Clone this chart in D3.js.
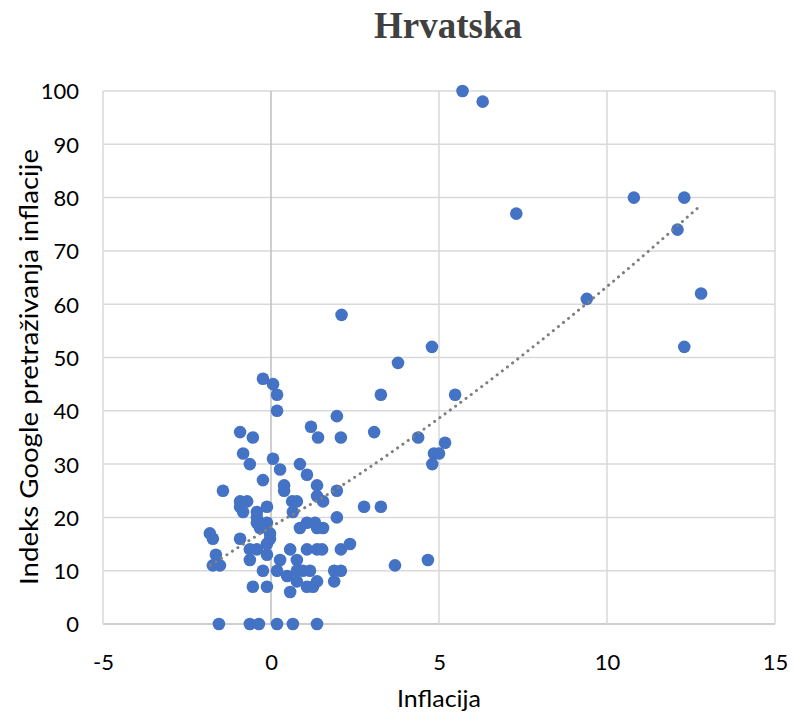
<!DOCTYPE html>
<html>
<head>
<meta charset="utf-8">
<script src="https://cdn.jsdelivr.net/npm/d3@7"></script>
<style>
  body { margin: 0; background: #fff; }
  text { font-family: Lato, "Liberation Sans", sans-serif; fill: #000; }
</style>
</head>
<body>
<div id="chart"></div>
<script>
// Data
var inflacija = [
  -1.55, -0.63, -0.36, 0.18, 0.65, 1.37,
  0.57,
  -0.54, -0.12, 1.07, 1.25,
  0.77, 1.37, 1.88,
  0.48,
  -0.24, 0.18, 0.77, 0.95, 1.16, 1.88, 2.08,
  -1.73, -1.52, 3.69,
  -0.63, 0.27, 0.77, 4.67,
  -1.64, -0.12,
  -0.63, -0.42, 0.57, 1.07, 1.37, 1.52, 2.08,
  -0.12, 2.35,
  -1.73, -0.92, -0.03,
  -1.82, -0.03,
  -0.33, 0.86, 1.37, 1.55,
  -0.42, -0.12, 1.07, 1.31,
  -0.42, 1.96,
  -0.83, -0.42, 0.65,
  -0.92, -0.12, 2.77, 3.27,
  -0.92, -0.71, 0.63, 0.77, 1.55,
  1.37,
  -1.43, 0.39, 1.96,
  0.39, 1.37,
  -0.24, 1.07, 0.27,
  -0.63, 0.86, 4.8,
  0.06,
  -0.83, 4.85, 5.0,
  5.18,
  -0.54, 1.4, 2.08, 4.38,
  -0.92, 3.07,
  1.19, 1.96, 0.18,
  0.18, 3.27, 5.48,
  0.06, -0.24, 3.78,
  4.79, 12.3, 2.1, 9.4, 12.8, 12.1, 7.3, 10.8, 12.3, 6.3, 5.7
];
var indeks = [
  0, 0, 0, 0, 0, 0,
  6,
  7, 7, 7, 7,
  8, 8, 8,
  9,
  10, 10, 10, 10, 10, 10, 10,
  11, 11, 11,
  12, 12, 12, 12,
  13, 13,
  14, 14, 14, 14, 14, 14, 14,
  15, 15,
  16, 16, 16,
  17, 17,
  18, 18, 18, 18,
  19, 19, 19, 19,
  20, 20,
  21, 21, 21,
  22, 22, 22, 22,
  23, 23, 23, 23, 23,
  24,
  25, 25, 25,
  26, 26,
  27, 28, 29,
  30, 30, 30,
  31,
  32, 32, 32,
  34,
  35, 35, 35, 35,
  36, 36,
  37, 39, 40,
  43, 43, 43,
  45, 46, 49,
  52, 52, 58, 61, 62, 74, 77, 80, 80, 98, 100
];

// Dotted trend line
var trendX = [-1.8, 0, 1.76, 5, 10, 12.8];
var trendY = [11, 18.2, 24.6, 38.6, 63.3, 78.6];

var xTicks = [-5, 0, 5, 10, 15];
var yTicks = [0, 10, 20, 30, 40, 50, 60, 70, 80, 90, 100];

// Sizing
var margin = {top: 91, right: 18, bottom: 90, left: 103};
var width = 793 - margin.left - margin.right;
var height = 714 - margin.top - margin.bottom;

var svg = d3.select("#chart")
  .append("svg")
    .attr("width", 793)
    .attr("height", 714);

var g = svg.append("g")
    .attr("transform", "translate(" + margin.left + "," + margin.top + ")");

var x = d3.scaleLinear().domain([-5, 15]).range([0, width]);
var y = d3.scaleLinear().domain([0, 100]).range([height, 0]);

// Gridlines
g.append("g")
  .selectAll("line")
  .data(yTicks)
  .enter()
  .append("line")
    .attr("x1", 0)
    .attr("x2", width)
    .attr("y1", function(d) { return y(d); })
    .attr("y2", function(d) { return y(d); })
    .attr("stroke", function(d) { return d === 0 ? "#bfbfbf" : "#d9d9d9"; })
    .attr("stroke-width", 1.5);

g.append("g")
  .selectAll("line")
  .data(xTicks)
  .enter()
  .append("line")
    .attr("x1", function(d) { return x(d); })
    .attr("x2", function(d) { return x(d); })
    .attr("y1", 0)
    .attr("y2", height)
    .attr("stroke", function(d) { return d === 0 ? "#bfbfbf" : "#d9d9d9"; })
    .attr("stroke-width", 1.5);

// Axes (labels only), plain hyphen for negatives
var fmt = function(d) { return String(d); };
var xAxis = g.append("g")
  .attr("transform", "translate(0," + height + ")")
  .call(d3.axisBottom(x).tickValues(xTicks).tickSize(0).tickPadding(46).tickFormat(fmt));
var yAxis = g.append("g")
  .call(d3.axisLeft(y).tickValues(yTicks).tickSize(0).tickPadding(24).tickFormat(fmt));
[xAxis, yAxis].forEach(function(a) {
  a.select(".domain").remove();
  a.selectAll("text")
    .style("font-family", "Lato, 'Liberation Sans', sans-serif")
    .style("font-size", "22px")
    .attr("fill", "#000");
});
yAxis.selectAll("text").attr("dy", "0.36em");
xAxis.selectAll("text").attr("dy", "0");

// Points
var pts = inflacija.map(function(v, i) { return {x: v, y: indeks[i]}; });
g.append("g")
  .selectAll("circle")
  .data(pts)
  .enter()
  .append("circle")
    .attr("cx", function(d) { return x(d.x); })
    .attr("cy", function(d) { return y(d.y); })
    .attr("r", 6.3)
    .style("fill", "#4472c4");

// Trend line
var trend = trendX.map(function(v, i) { return {x: v, y: trendY[i]}; });
g.append("path")
  .datum(trend)
  .attr("fill", "none")
  .attr("stroke", "#7f7f7f")
  .attr("stroke-width", 3)
  .attr("stroke-linecap", "round")
  .attr("stroke-dasharray", "0.1 6.4")
  .attr("d", d3.line()
    .curve(d3.curveMonotoneX)
    .x(function(d) { return x(d.x); })
    .y(function(d) { return y(d.y); }));

// Title
svg.append("text")
  .attr("x", 448)
  .attr("y", 38)
  .attr("text-anchor", "middle")
  .style("font-family", "'Liberation Serif', serif")
  .style("font-weight", "bold")
  .style("font-size", "37px")
  .style("fill", "#404040")
  .text("Hrvatska");

// Axis titles
svg.append("text")
  .attr("x", 439)
  .attr("y", 707)
  .attr("text-anchor", "middle")
  .attr("textLength", 84)
  .attr("lengthAdjust", "spacingAndGlyphs")
  .style("font-size", "24px")
  .text("Inflacija");

svg.append("text")
  .attr("transform", "translate(38,367) rotate(-90)")
  .attr("text-anchor", "middle")
  .attr("textLength", 436)
  .attr("lengthAdjust", "spacingAndGlyphs")
  .style("font-size", "25px")
  .text("Indeks Google pretraživanja inflacije");
</script>
</body>
</html>
